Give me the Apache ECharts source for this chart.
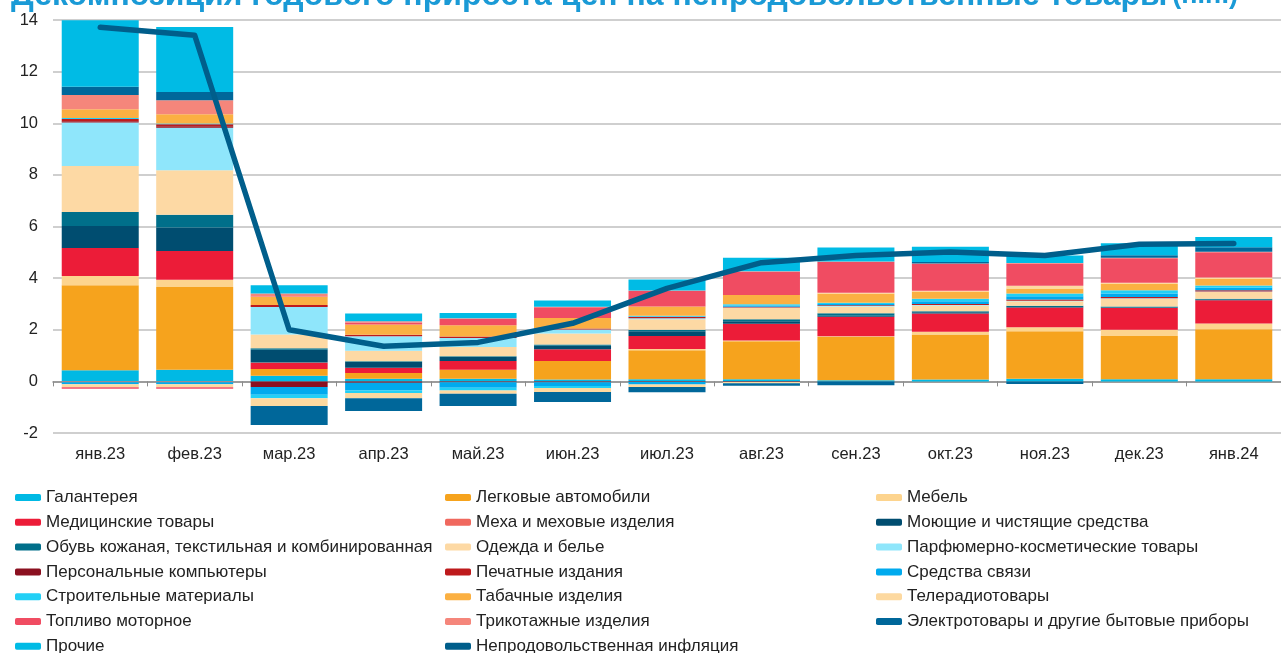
<!DOCTYPE html>
<html>
<head>
<meta charset="utf-8">
<script src="https://cdn.jsdelivr.net/npm/echarts@6/dist/echarts.min.js"></script>
<style>
  html, body { margin: 0; padding: 0; background: #fff; }
  #chart { width: 1281px; height: 653px; }
</style>
</head>
<body>
<div id="chart"></div>
<script>
// месяцы
var months = ['янв.23', 'фев.23', 'мар.23', 'апр.23', 'май.23', 'июн.23', 'июл.23', 'авг.23', 'сен.23', 'окт.23', 'ноя.23', 'дек.23', 'янв.24'];

// вклады групп товаров, п.п.
var galanter   = [0.43, 0.45, 0.22, 0.10, 0.10, 0.07, 0.08, 0.08, 0.04, 0.07, 0.10, 0.08, 0.08];
var avto       = [3.29, 3.21, 0.26, 0.22, 0.35, 0.72, 1.13, 1.47, 1.68, 1.75, 1.84, 1.68, 1.94];
var mebel      = [0.36, 0.28, 0.00, 0.00, 0.00, 0.00, 0.04, 0.03, 0.03, 0.10, 0.16, 0.24, 0.22];
var medic      = [1.09, 1.11, 0.23, 0.21, 0.34, 0.45, 0.51, 0.65, 0.75, 0.71, 0.76, 0.84, 0.90];
var meha       = [-0.03, -0.03, 0.02, 0.00, 0.00, 0.00, 0.00, 0.00, 0.00, 0.00, 0.00, 0.00, 0.00];
var moyuschie  = [0.85, 0.91, 0.50, 0.22, 0.15, 0.14, 0.18, 0.10, 0.04, 0.05, 0.02, 0.02, 0.02];
var obuv       = [0.54, 0.50, 0.05, 0.03, 0.03, 0.05, 0.06, 0.08, 0.10, 0.04, 0.05, 0.04, 0.04];
var odezhda    = [1.78, 1.72, 0.54, 0.41, 0.36, 0.42, 0.41, 0.43, 0.26, 0.22, 0.17, 0.30, 0.26];
var parfum     = [1.69, 1.65, 1.06, 0.56, 0.35, 0.16, 0.04, 0.02, 0.02, 0.02, 0.02, 0.02, 0.02];
var pk         = [0.05, 0.05, -0.22, -0.05, -0.03, -0.03, -0.02, -0.02, 0.00, 0.00, 0.00, 0.00, 0.00];
var pechat     = [0.08, 0.08, 0.08, 0.06, 0.06, 0.04, 0.05, 0.03, 0.03, 0.04, 0.05, 0.05, 0.05];
var svyaz      = [-0.08, -0.08, -0.30, -0.30, -0.22, -0.15, -0.10, 0.05, 0.05, 0.10, 0.13, 0.13, 0.10];
var stroit     = [0.04, 0.03, -0.13, -0.10, -0.10, -0.08, 0.04, 0.05, 0.05, 0.10, 0.10, 0.13, 0.08];
var tabak      = [0.34, 0.36, 0.32, 0.39, 0.43, 0.41, 0.36, 0.36, 0.35, 0.28, 0.20, 0.24, 0.26];
var teleradio  = [-0.12, -0.12, -0.30, -0.20, -0.13, -0.15, -0.10, -0.05, 0.03, 0.03, 0.10, 0.05, 0.05];
var toplivo    = [-0.06, -0.06, 0.02, 0.08, 0.26, 0.41, 0.60, 0.90, 1.19, 1.04, 0.87, 0.95, 0.98];
var trikotazh  = [0.55, 0.54, 0.10, 0.05, 0.02, 0.02, 0.02, 0.02, 0.02, 0.02, 0.02, 0.02, 0.02];
var elektro    = [0.32, 0.32, -0.74, -0.50, -0.47, -0.39, -0.20, -0.10, -0.15, 0.05, -0.10, 0.10, 0.18];
var prochie    = [2.58, 2.52, 0.32, 0.30, 0.20, 0.24, 0.43, 0.52, 0.55, 0.60, 0.29, 0.46, 0.39];

// непродовольственная инфляция
var inflation  = [13.72, 13.41, 2.00, 1.36, 1.51, 2.25, 3.60, 4.60, 4.88, 5.01, 4.88, 5.31, 5.34];

var yTicks = [-2, 0, 2, 4, 6, 8, 10, 12, 14];

var groups = [
    ['Галантерея', galanter, '#00b9e4'],
    ['Легковые автомобили', avto, '#f6a31d'],
    ['Мебель', mebel, '#fdd48e'],
    ['Медицинские товары', medic, '#ec1c38'],
    ['Меха и меховые изделия', meha, '#f0685e'],
    ['Моющие и чистящие средства', moyuschie, '#004d70'],
    ['Обувь кожаная, текстильная и комбинированная', obuv, '#006f8a'],
    ['Одежда и белье', odezhda, '#fdd9a4'],
    ['Парфюмерно-косметические товары', parfum, '#8fe6fb'],
    ['Персональные компьютеры', pk, '#8b1020'],
    ['Печатные издания', pechat, '#be1a1c'],
    ['Средства связи', svyaz, '#00aaee'],
    ['Строительные материалы', stroit, '#22d0f6'],
    ['Табачные изделия', tabak, '#fbb042'],
    ['Телерадиотовары', teleradio, '#fdd9a0'],
    ['Топливо моторное', toplivo, '#f04c62'],
    ['Трикотажные изделия', trikotazh, '#f5867b'],
    ['Электротовары и другие бытовые приборы', elektro, '#00679a'],
    ['Прочие', prochie, '#00bbe5']
];
var lineName = 'Непродовольственная инфляция';

var chart = echarts.init(document.getElementById('chart'));

var series = groups.map(function(g) {
    return {
        name: g[0],
        type: 'bar',
        stack: 'total',
        barWidth: 77,
        data: g[1],
        itemStyle: { color: g[2] }
    };
});
series.push({
    name: lineName,
    type: 'line',
    data: inflation,
    symbol: 'none',
    z: 10,
    lineStyle: { color: '#005e8b', width: 5.5, cap: 'round', join: 'round' },
    itemStyle: { color: '#005e8b' }
});

var legendText = { fontFamily: 'Liberation Sans, Arial', fontSize: 17, color: '#222', lineHeight: 17 };
function legendCol(left, names) {
    return {
        orient: 'vertical',
        left: left,
        top: 489,
        height: 200,
        padding: 0,
        itemWidth: 26,
        itemHeight: 7,
        itemGap: 7.8,
        textStyle: legendText,
        data: names
    };
}

var option = {
    animation: false,
    textStyle: { fontFamily: 'Liberation Sans, Arial' },
    title: {
        left: 6,
        top: -25,
        text: '{b|Декомпозиция годового прироста цен на непродовольственные товары} {n|(п.п.)}',
        textStyle: {
            rich: {
                b: { fontFamily: 'Liberation Sans, Arial', fontSize: 32, fontWeight: 'bold', color: '#1a9ad6' },
                n: { fontFamily: 'Liberation Sans, Arial', fontSize: 27, color: '#1a9ad6' }
            }
        }
    },
    legend: [
        legendCol(15, ['Галантерея', 'Медицинские товары', 'Обувь кожаная, текстильная и комбинированная', 'Персональные компьютеры', 'Строительные материалы', 'Топливо моторное', 'Прочие']),
        legendCol(445, ['Легковые автомобили', 'Меха и меховые изделия', 'Одежда и белье', 'Печатные издания', 'Табачные изделия', 'Трикотажные изделия', { name: lineName, icon: 'roundRect' }]),
        legendCol(876, ['Мебель', 'Моющие и чистящие средства', 'Парфюмерно-косметические товары', 'Средства связи', 'Телерадиотовары', 'Электротовары и другие бытовые приборы'])
    ],
    grid: {
        left: 53,
        right: -7,
        top: 20,
        bottom: 220
    },
    xAxis: [{
        type: 'category',
        data: months,
        axisLine: { onZero: true, lineStyle: { color: '#8c8c8c', width: 1.5 } },
        axisTick: { show: true, length: 5, lineStyle: { color: '#8c8c8c' } },
        axisLabel: { show: false }
    }, {
        type: 'category',
        data: months,
        position: 'bottom',
        axisLine: { show: false, onZero: false },
        axisTick: { show: false },
        axisLabel: { fontSize: 16.5, color: '#222', margin: 13 }
    }],
    yAxis: {
        type: 'value',
        min: yTicks[0],
        max: yTicks[yTicks.length - 1],
        interval: 2,
        axisLine: { show: false },
        axisTick: { show: false },
        axisLabel: { fontSize: 16.5, color: '#222', margin: 15 },
        splitLine: { lineStyle: { color: '#cfcfcf', width: 2 } }
    },
    series: series
};

chart.setOption(option);
window.addEventListener('resize', function() {
    chart.resize();
});
</script>
</body>
</html>
